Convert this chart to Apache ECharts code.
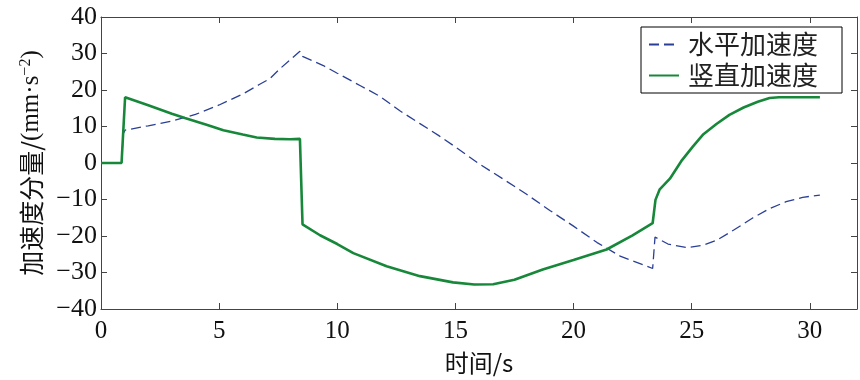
<!DOCTYPE html>
<html>
<head>
<meta charset="utf-8">
<script src="https://cdn.jsdelivr.net/npm/echarts@6/dist/echarts.min.js"></script>
<style>
html,body{margin:0;padding:0;background:#fff;}
#chart{width:860px;height:380px;}
</style>
</head>
<body>
<div id="chart"></div>
<script>
// ---- data ----
const seriesNames = ['水平加速度', '竖直加速度'];
const xTicks = [0, 5, 10, 15, 20, 25, 30];
const yTicks = [-40, -30, -20, -10, 0, 10, 20, 30, 40];

// horizontal acceleration (blue dashed)
const tH = [0, 0.87, 0.94, 1.02, 2, 3, 4, 5, 6, 6.7, 7.15, 7.57, 8.0, 8.42, 8.53, 9.0, 9.41, 10, 11, 11.8, 12.65, 13.5, 14.3, 15, 16, 17, 18, 19, 20, 21, 22, 23, 23.35, 23.45, 24, 24.8, 25.5, 26.05, 26.8, 27.6, 28.3, 29, 29.7, 30.43];
const vH = [0, 0, 8.0, 9.0, 10.2, 11.5, 13.3, 15.9, 18.9, 21.5, 23.1, 25.8, 28.2, 30.6, 29.2, 27.9, 26.7, 24.6, 21.1, 18.3, 14.3, 10.8, 7.5, 4.4, -0.2, -4.3, -8.5, -13.0, -17.3, -21.8, -25.6, -28.0, -28.9, -20.3, -22.2, -23.2, -22.5, -21.2, -18.3, -15.0, -12.5, -10.6, -9.4, -8.8];

// vertical acceleration (green solid)
const tV = [0, 0.87, 1.02, 2, 3, 3.55, 4.5, 5.18, 6, 6.59, 7.36, 8.0, 8.42, 8.53, 9.27, 10, 10.68, 12.09, 13.5, 14.9, 15.8, 16.6, 17.5, 18.7, 20, 21.4, 22.5, 23.35, 23.47, 23.65, 24.08, 24.56, 25.05, 25.5, 26.05, 26.6, 27.2, 27.8, 28.3, 28.7, 29.5, 30.43];
const vV = [0, 0, 18.0, 15.8, 13.5, 12.3, 10.4, 9.0, 7.8, 7.0, 6.6, 6.5, 6.6, -16.8, -19.8, -22.2, -24.7, -28.3, -31.0, -32.7, -33.3, -33.2, -32.0, -29.2, -26.6, -23.7, -19.8, -16.5, -10.1, -7.2, -4.3, 0.5, 4.5, 7.9, 10.7, 13.2, 15.2, 16.8, 17.8, 18.0, 18.0, 18.0];

const blue = '#2a3f95';
const green = '#17883a';
const serif = "'Liberation Serif', 'Times New Roman', serif";
const cjk = "'Noto Sans CJK SC', sans-serif";

const zip = (t, v) => t.map((x, i) => [x, v[i]]);
const minus = v => String(v).replace('-', '\u2212');

const chart = echarts.init(document.getElementById('chart'), null, {renderer: 'canvas'});

const baseX = {
  type: 'value', min: 0, max: 32, interval: 5,
  splitLine: {show: false},
  axisLine: {show: true, onZero: false, lineStyle: {color: '#444', width: 1}},
  axisTick: {show: true, inside: true, length: 6, lineStyle: {color: '#444'},
    customValues: xTicks},
};
const baseY = {
  type: 'value', min: -40, max: 40, interval: 10,
  splitLine: {show: false},
  axisLine: {show: true, onZero: false, lineStyle: {color: '#444', width: 1}},
  axisTick: {show: true, inside: true, length: 6, lineStyle: {color: '#444'}},
};

chart.setOption({
  animation: false,
  backgroundColor: '#fff',
  grid: {left: 101, right: 3, top: 17, bottom: 62, containLabel: false},
  legend: {
    data: seriesNames.map(n => ({name: n, itemStyle: {opacity: 0}})),
    orient: 'vertical',
    left: 641, top: 27,
    padding: [2, 24, 2, 7],
    itemGap: 0,
    itemWidth: 30, itemHeight: 14,
    borderColor: '#000', borderWidth: 1,
    textStyle: {fontFamily: cjk, fontSize: 26, color: '#222', lineHeight: 31, padding: [0, 0, 0, 4]},
  },
  xAxis: [
    Object.assign({}, baseX, {
      position: 'bottom',
      axisLabel: {show: true, customValues: xTicks, fontFamily: serif, fontSize: 25, color: '#111', margin: 10},
      name: '时间/s', nameLocation: 'middle', nameGap: 42,
      nameTextStyle: {fontFamily: cjk, fontSize: 24, color: '#111'},
    }),
    Object.assign({}, baseX, {position: 'top', axisLabel: {show: false}}),
  ],
  yAxis: [
    Object.assign({}, baseY, {
      position: 'left',
      axisLabel: {show: true, fontFamily: serif, fontSize: 26, color: '#111', margin: 4,
        formatter: v => minus(v)},
      name: '{c|加速度分量/}{l|(mm·s}{s|−2}{l|)}', nameLocation: 'middle', nameGap: 50,
      nameTextStyle: {
        color: '#111',
        rich: {
          c: {fontFamily: cjk, fontSize: 25, color: '#111', lineHeight: 30},
          l: {fontFamily: serif, fontSize: 25, color: '#111', lineHeight: 30},
          s: {fontFamily: serif, fontSize: 16, color: '#111', lineHeight: 30, padding: [0, 0, 12, 0]},
        },
      },
    }),
    Object.assign({}, baseY, {position: 'right', axisLabel: {show: false}}),
  ],
  series: [
    {
      name: seriesNames[0], type: 'line', xAxisIndex: 0, yAxisIndex: 0,
      data: zip(tH, vH), symbol: 'none', showSymbol: false, smooth: false,
      lineStyle: {color: blue, width: 1.3, type: [10, 5]},
      itemStyle: {color: blue}, z: 2,
    },
    {
      name: seriesNames[1], type: 'line', xAxisIndex: 0, yAxisIndex: 0,
      data: zip(tV, vV), symbol: 'none', showSymbol: false, smooth: false,
      lineStyle: {color: green, width: 2.6},
      itemStyle: {color: green}, z: 3,
    },
  ],
});
</script>
</body>
</html>
